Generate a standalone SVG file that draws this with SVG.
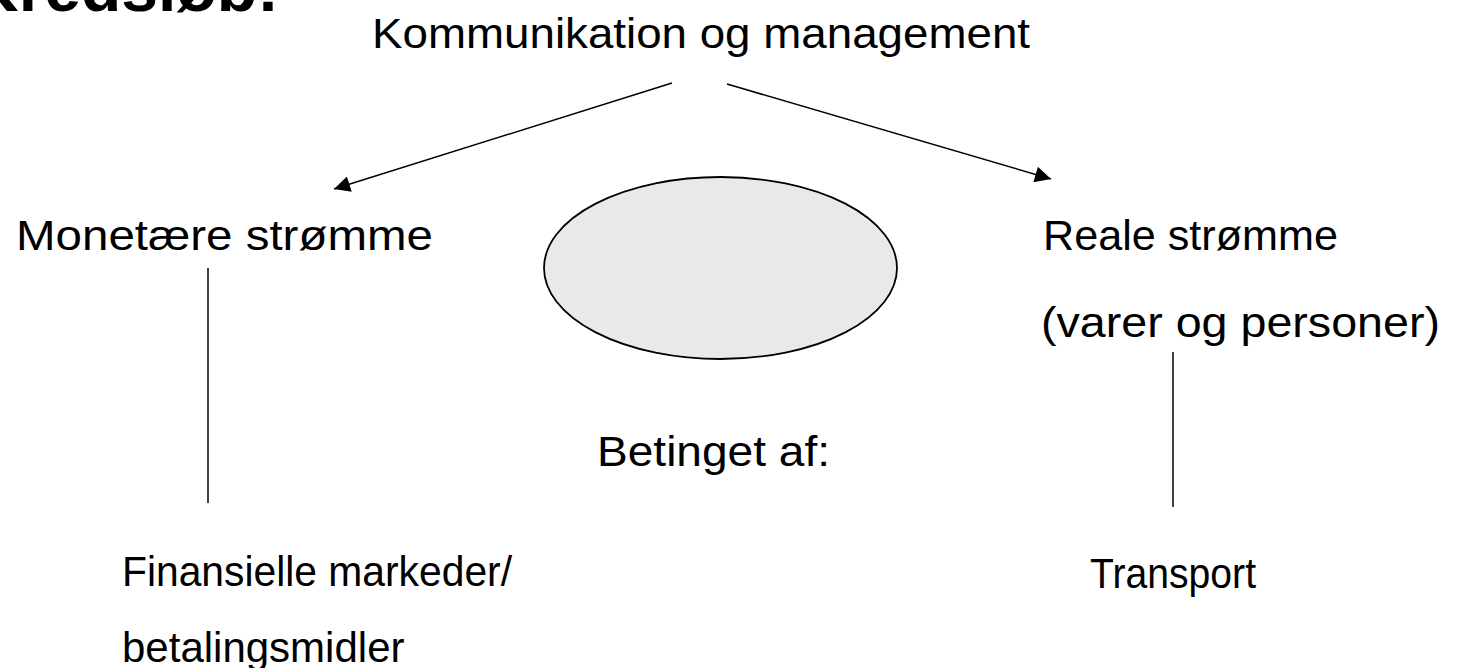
<svg xmlns="http://www.w3.org/2000/svg" width="1473" height="668" viewBox="0 0 1473 668">
  <style>
    .t { font-family: "Liberation Sans", Arial, sans-serif; font-size: 43px; fill: #000; }
    .title { font-family: "Liberation Sans", Arial, sans-serif; font-size: 66px; font-weight: bold; fill: #000; }
    .ln { stroke: #000; stroke-width: 1.5; fill: none; }
  </style>
  <defs>
    <marker id="arr" viewBox="0 0 10 10" refX="10" refY="5" markerWidth="18" markerHeight="16" markerUnits="userSpaceOnUse" orient="auto">
      <path d="M0,0 L10,5 L0,10 z" fill="#000"/>
    </marker>
  </defs>
  <rect width="1473" height="668" fill="#fff"/>
  <text class="title" x="-29" y="11">Kredsløb:</text>

  <g id="connectors">
    <line class="ln" x1="672" y1="83" x2="334" y2="189" marker-end="url(#arr)"/>
    <line class="ln" x1="727" y1="84" x2="1051" y2="179" marker-end="url(#arr)"/>
    <line class="ln" x1="208" y1="268" x2="208" y2="503"/>
    <line class="ln" x1="1173" y1="352" x2="1173" y2="507"/>
  </g>

  <g id="node-top"><text class="t" x="372" y="48" textLength="658" lengthAdjust="spacingAndGlyphs">Kommunikation og management</text></g>
  <g id="node-monetaere"><text class="t" x="16" y="250" textLength="417" lengthAdjust="spacingAndGlyphs">Monetære strømme</text></g>
  <g id="node-ellipse"><ellipse cx="720.5" cy="268" rx="176.5" ry="91" fill="#e9e9e9" stroke="#000" stroke-width="1.8"/></g>
  <g id="node-reale"><text class="t" x="1043" y="250" textLength="295" lengthAdjust="spacingAndGlyphs">Reale strømme</text><text class="t" x="1041" y="337" textLength="399" lengthAdjust="spacingAndGlyphs">(varer og personer)</text></g>
  <g id="node-betinget"><text class="t" x="597" y="466" textLength="233" lengthAdjust="spacingAndGlyphs">Betinget af:</text></g>
  <g id="node-finansielle"><text class="t" x="122" y="586" style="font-size:42px" textLength="390" lengthAdjust="spacingAndGlyphs">Finansielle markeder/</text><text class="t" x="122" y="662" style="font-size:42px">betalingsmidler</text></g>
  <g id="node-transport"><text class="t" x="1090" y="588" style="font-size:42px" textLength="166" lengthAdjust="spacingAndGlyphs">Transport</text></g>
</svg>
